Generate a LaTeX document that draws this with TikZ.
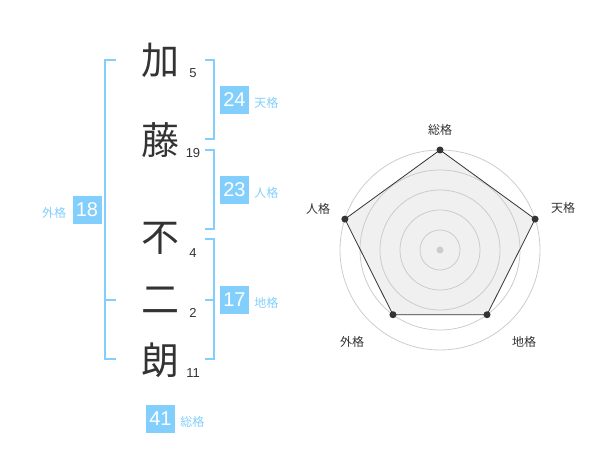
\documentclass[tikz,border=0pt]{standalone}
\usepackage{fontspec}
\usetikzlibrary{positioning}
\setmainfont{Liberation Sans}
\newfontfamily\jpfont{Noto Sans CJK JP}
\definecolor{kakublue}{HTML}{82CFFD}
\definecolor{inkgray}{HTML}{333333}
\definecolor{ringgray}{HTML}{CCCCCC}
\definecolor{areagray}{HTML}{F0F0F0}

\newcommand{\kalign}{160}
\newcommand{\salign}{193}

\tikzset{
  kanji/.style={font=\jpfont\fontsize{38}{38}\selectfont, text=inkgray, inner sep=0pt},
  strokes/.style={font=\fontsize{13}{13}\selectfont, text=inkgray, inner sep=0pt},
  kakubox/.style={fill=kakublue, text=white, font=\fontsize{20}{20}\selectfont,
                  minimum width=29, minimum height=28, inner sep=0pt},
  kakuname/.style={font=\jpfont\fontsize{12}{12}\selectfont, text=kakublue, inner sep=0pt,
                   yshift=-3},
  radarname/.style={font=\jpfont\fontsize{12}{12}\selectfont, text=inkgray, inner sep=0pt},
  bracket/.style={draw=kakublue, line width=2},
}

\begin{document}
\begin{tikzpicture}[x=1pt, y=-1pt]
\useasboundingbox (0,0) rectangle (600,470);

% name
%% kanji and strokes
\node[kanji] (k1) at (\kalign,60) {加};
\node[kanji] (k2) at (\kalign,140) {藤};
\node[kanji] (k3) at (\kalign,238) {不};
\node[kanji] (k4) at (\kalign,300) {二};
\node[kanji] (k5) at (\kalign,360) {朗};
\node[strokes] (s1) at (\salign,73) {5};
\node[strokes] (s2) at (\salign,153) {19};
\node[strokes] (s3) at (\salign,253) {4};
\node[strokes] (s4) at (\salign,313) {2};
\node[strokes] (s5) at (\salign,373) {11};

%% brackets
\draw[bracket] (116,60) -- (105,60) -- (105,359) -- (116,359);
\draw[bracket] (105,300) -- (116,300);
\draw[bracket] (205,60) -- (214,60) -- (214,139) -- (205,139);
\draw[bracket] (205,150) -- (214,150) -- (214,229) -- (205,229);
\draw[bracket] (205,239) -- (214,239) -- (214,359) -- (205,359);
\draw[bracket] (205,300) -- (214,300);

%% kaku values
\node[kakubox] (ten) at (234.5,100) {24};
\node[kakuname, right=5 of ten] (tenname) {天格};
\node[kakubox] (jin) at (234.5,190) {23};
\node[kakuname, right=5 of jin] (jinname) {人格};
\node[kakubox] (chi) at (234.5,300) {17};
\node[kakuname, right=5 of chi] (chiname) {地格};
\node[kakubox] (gai) at (87,210) {18};
\node[kakuname, left=6 of gai] (gainame) {外格};
\node[kakubox] (sou) at (160.5,419) {41};
\node[kakuname, right=5 of sou] (souname) {総格};

% radar
\begin{scope}[shift={(440,250)}, yscale=-1]
  \coordinate (psou) at (90:100);
  \coordinate (pten) at (18:100);
  \coordinate (pchi) at (-54:80);
  \coordinate (pgai) at (-126:80);
  \coordinate (pjin) at (162:100);
  \fill[areagray] (psou) -- (pten) -- (pchi) -- (pgai) -- (pjin) -- cycle;
  \foreach \r in {20,40,...,100}
    \draw[ringgray, line width=0.8] (0,0) circle[radius=\r];
  \draw[inkgray, line width=0.8] (psou) -- (pten) -- (pchi) -- (pgai) -- (pjin) -- cycle;
  \foreach \p in {psou,pten,pchi,pgai,pjin}
    \fill[inkgray] (\p) circle[radius=3.5];
  \fill[ringgray] (0,0) circle[radius=3.5];
\end{scope}
\node[radarname] (rsou) at (440,130) {総格};
\node[radarname] (rten) at (563,208) {天格};
\node[radarname] (rjin) at (318,209) {人格};
\node[radarname] (rgai) at (352,342) {外格};
\node[radarname] (rchi) at (524,342) {地格};

\end{tikzpicture}
\end{document}
